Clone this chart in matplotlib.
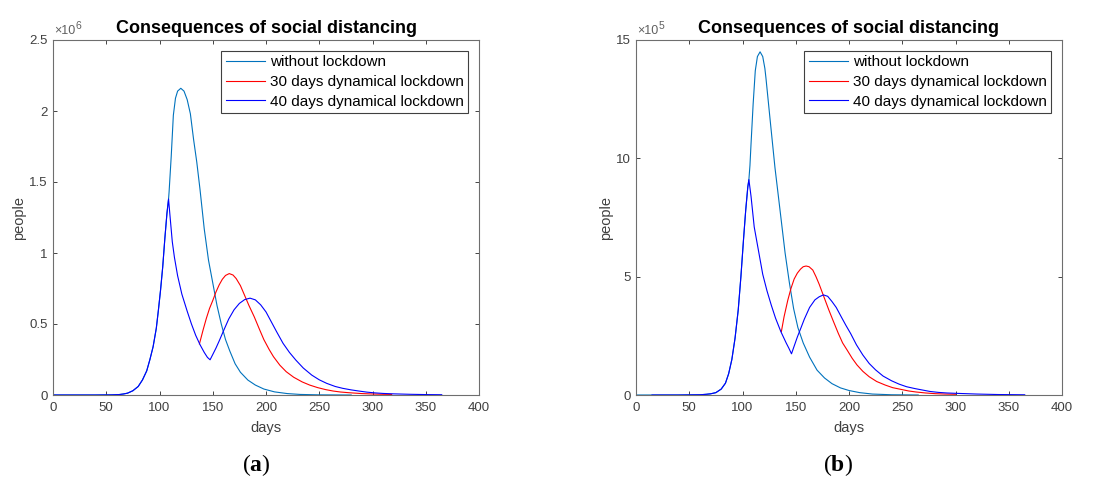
import numpy as np
import matplotlib
matplotlib.use('Agg')
import matplotlib.pyplot as plt
from matplotlib.ticker import MultipleLocator, FuncFormatter

plt.rcParams['font.family'] = ['Liberation Sans', 'DejaVu Sans']
plt.rcParams['mathtext.fontset'] = 'custom'
plt.rcParams['mathtext.rm'] = 'Liberation Serif'
plt.rcParams['mathtext.bf'] = 'Liberation Serif:bold'

title = 'Consequences of social distancing'
labels = ['without lockdown', '30 days dynamical lockdown', '40 days dynamical lockdown']
colors = ['#0072BD', '#FF0000', '#0000FF']

# ---- panel (a), values in 10^6 people ----
a_rise_days = [0, 20, 40, 55, 62, 66, 70, 75, 80, 84, 88, 91, 94, 97, 99, 101, 103, 105, 107, 108.5]
a_rise_vals = [0, 0, 0, 0.001, 0.003, 0.007, 0.013, 0.03, 0.06, 0.106, 0.17, 0.25, 0.34, 0.47, 0.6,
               0.74, 0.9, 1.1, 1.28, 1.38]

a_free_days = [109, 111, 113, 115, 117, 120, 123, 126, 129, 132, 135, 138, 142, 146, 150, 154, 158,
               162, 166, 171, 176, 183, 190, 198, 208, 220, 232, 250, 280]
a_free_vals = [1.43, 1.68, 1.97, 2.09, 2.14, 2.16, 2.14, 2.08, 1.98, 1.80, 1.64, 1.45, 1.17, 0.95,
               0.79, 0.63, 0.50, 0.39, 0.31, 0.22, 0.16, 0.105, 0.07, 0.042, 0.022, 0.01, 0.004,
               0.001, 0]

a_d30_days = [137.5, 141, 144, 147, 150, 153, 156, 159, 162, 165.5, 169, 172, 176, 180, 184, 189,
              194, 198, 203, 207, 213, 219, 226, 234, 241, 248.5, 256, 263, 270, 278, 290, 300,
              310, 318]
a_d30_vals = [0.36, 0.46, 0.54, 0.61, 0.665, 0.725, 0.775, 0.815, 0.842, 0.855, 0.845, 0.82, 0.77,
              0.70, 0.63, 0.55, 0.46, 0.39, 0.32, 0.27, 0.21, 0.164, 0.125, 0.092, 0.07, 0.052,
              0.038, 0.028, 0.021, 0.016, 0.01, 0.007, 0.005, 0.004]

a_d40_days = [110, 112, 114, 117, 121, 126, 130, 134, 138, 142, 145, 147.5, 150, 153, 156, 160,
              165, 170, 175, 180, 185, 190, 195, 200, 205, 210, 216, 222, 228, 235, 243, 250, 257,
              265, 272, 280, 288, 295, 302, 310, 320, 335, 350, 365]
a_d40_vals = [1.25, 1.08, 0.97, 0.84, 0.71, 0.59, 0.5, 0.42, 0.355, 0.30, 0.265, 0.248, 0.285,
              0.33, 0.38, 0.45, 0.535, 0.60, 0.645, 0.672, 0.682, 0.67, 0.635, 0.585, 0.515, 0.445,
              0.364, 0.30, 0.246, 0.19, 0.14, 0.107, 0.082, 0.06, 0.047, 0.036, 0.027, 0.02, 0.015,
              0.011, 0.008, 0.005, 0.003, 0.002]

# ---- panel (b), values in 10^5 people ----
b_rise_days = [60, 66, 70, 75, 80, 84, 87, 90, 93, 96, 98.5, 101, 103, 105, 106]
b_rise_vals = [0.01, 0.03, 0.05, 0.1, 0.25, 0.5, 0.9, 1.5, 2.4, 3.6, 5.0, 6.6, 7.8, 8.8, 9.1]

b_free_days = [107, 108, 110, 112, 114, 116.5, 119, 121, 122, 126, 130.5, 135, 140, 144, 148, 152,
               157, 163, 170, 177, 184, 192, 200, 210, 222, 240, 265]
b_free_vals = [9.7, 10.6, 12.3, 13.7, 14.3, 14.5, 14.3, 13.8, 13.4, 11.6, 9.6, 7.9, 6.0, 4.75, 3.65,
               2.85, 2.2, 1.6, 1.05, 0.72, 0.48, 0.3, 0.19, 0.1, 0.04, 0.01, 0]

b_d30_days = [136.5, 139, 142.5, 145.5, 148.5, 151.5, 154.5, 157, 159.7, 162.5, 166, 169, 172, 176,
              181, 185, 190, 194, 198.5, 203, 207.5, 213, 219, 226, 234, 241, 248.5, 256, 263, 272,
              281, 290, 300]
b_d30_vals = [2.68, 3.3, 4.0, 4.5, 4.9, 5.15, 5.32, 5.42, 5.45, 5.42, 5.28, 5.0, 4.68, 4.2, 3.6,
              3.15, 2.6, 2.2, 1.88, 1.55, 1.27, 1.0, 0.77, 0.57, 0.42, 0.31, 0.24, 0.17, 0.127,
              0.085, 0.056, 0.04, 0.03]

b_d40_days = [108, 111, 115, 119, 123, 127, 131, 136, 141, 143.5, 146, 148, 151.5, 155, 158, 163,
              168, 172, 176, 180, 184, 188, 193, 197, 201.5, 207, 213, 219, 225, 232, 240, 247, 254,
              262, 269, 276, 284, 292, 301, 320, 340, 365]
b_d40_vals = [8.4, 7.1, 6.1, 5.1, 4.4, 3.8, 3.25, 2.68, 2.2, 1.98, 1.74, 2.0, 2.45, 2.85, 3.2, 3.7,
              4.02, 4.15, 4.23, 4.17, 3.95, 3.7, 3.28, 2.95, 2.6, 2.12, 1.69, 1.33, 1.06, 0.8, 0.6,
              0.46, 0.35, 0.27, 0.21, 0.15, 0.11, 0.085, 0.07, 0.04, 0.02, 0.01]

panels = [
    {
        'scale': 1e6, 'exp': '6', 'ymax': 2.5, 'ystep': 0.5, 'tag': 'a',
        'left': 53, 'label_x': 256,
        'series': [
            (a_rise_days + a_free_days, a_rise_vals + a_free_vals),
            (a_d30_days, a_d30_vals),
            (a_rise_days + a_d40_days, a_rise_vals + a_d40_vals),
        ],
    },
    {
        'scale': 1e5, 'exp': '5', 'ymax': 15, 'ystep': 5, 'tag': 'b',
        'left': 636, 'label_x': 838,
        'series': [
            ([0, 15, 40] + b_rise_days + b_free_days, [0, 0, 0] + b_rise_vals + b_free_vals),
            (b_d30_days, b_d30_vals),
            ([15, 40] + b_rise_days + b_d40_days, [0, 0] + b_rise_vals + b_d40_vals),
        ],
    },
]

W, H = 1101, 480
fig = plt.figure(figsize=(W / 100, H / 100), dpi=100)

txt_col = '#404040'
for p in panels:
    ax = fig.add_axes([p['left'] / W, 85 / H, 426 / W, 355 / H])
    sc = p['scale']
    for (d, v), lab, c in zip(p['series'], labels, colors):
        ax.plot(d, np.array(v) * sc, color=c, lw=0.8, label=lab)

    ax.set_xlim(0, 400)
    ax.set_ylim(0, p['ymax'] * sc)
    ax.xaxis.set_major_locator(MultipleLocator(50))
    ax.yaxis.set_major_locator(MultipleLocator(p['ystep'] * sc))
    ax.yaxis.set_major_formatter(FuncFormatter(lambda val, pos, s=sc: f'{val / s:g}'))
    ax.tick_params(direction='in', top=True, right=True, length=3, width=0.6,
                   color='#262626', labelsize=9.5, labelcolor=txt_col)
    ax.tick_params(axis='x', pad=5)
    ax.tick_params(axis='y', pad=4)
    for sp in ax.spines.values():
        sp.set_color('#6e6e6e')
        sp.set_linewidth(0.8)

    ax.set_title(title, fontsize=13, fontweight='bold', pad=5)
    ax.set_xlabel('days', fontsize=10.5, color=txt_col, labelpad=5)
    ax.set_ylabel('people', fontsize=10.5, color=txt_col, labelpad=2)

    t1 = ax.annotate('×10', xy=(0, 1), xycoords='axes fraction', xytext=(1, 2),
                     textcoords='offset points', fontsize=9, color='#606060',
                     ha='left', va='bottom')
    ax.annotate(p['exp'], xy=(1, 0.55), xycoords=t1, fontsize=7.5, color='#606060',
                ha='left', va='bottom')

    leg = ax.legend(loc='upper right', bbox_to_anchor=(0.975, 0.97), borderaxespad=0,
                    fontsize=11, frameon=True, fancybox=False, framealpha=1,
                    handlelength=2.6, handletextpad=0.3, borderpad=0.3, labelspacing=0.38)
    leg.get_frame().set_edgecolor('#404040')
    leg.get_frame().set_linewidth(0.8)

    fig.text(p['label_x'] / W, 1 - 465 / H, r'$\mathrm{(}\mathbf{' + p['tag'] + r'}\mathrm{)}$',
             fontsize=17, ha='center', va='center', color='black')

fig.savefig('out.png', dpi=100)
